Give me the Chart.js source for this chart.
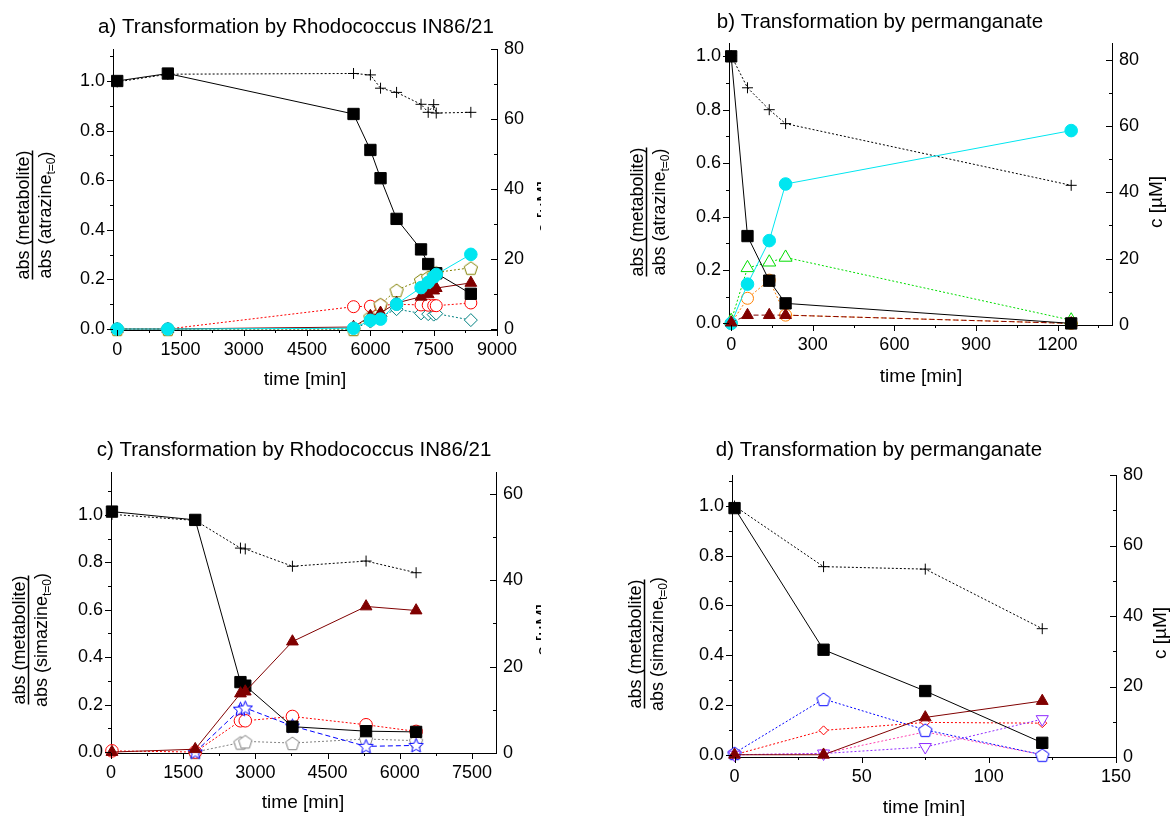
<!DOCTYPE html>
<html>
<head>
<meta charset="utf-8">
<script src="https://cdn.jsdelivr.net/npm/chart.js@4.4.1/dist/chart.umd.min.js"></script>
<style>
  body { margin: 0; background: #fff; width: 1171px; height: 816px; overflow: hidden; position: relative; }
  .panel { position: absolute; }
</style>
</head>
<body>
<div class="panel" style="left:0;top:0;width:541px;height:410px"><canvas id="chart-a"></canvas></div>
<div class="panel" style="left:541px;top:0;width:630px;height:410px"><canvas id="chart-b"></canvas></div>
<div class="panel" style="left:0;top:410px;width:541px;height:406px"><canvas id="chart-c"></canvas></div>
<div class="panel" style="left:541px;top:410px;width:630px;height:406px"><canvas id="chart-d"></canvas></div>
<script>
// --- data ------------------------------------------------------------------

// a) atrazine, Rhodococcus
const A_TIME      = [0, 1200, 5600, 6000, 6240, 6620, 7200, 7370, 7500, 7560, 8380];
const A_ATRAZINE  = [1.00, 1.03, 0.867, 0.722, 0.608, 0.444, 0.321, 0.262, null, 0.225, 0.142];
const A_CONC      = [70.6, 72.8, 73.0, 72.6, 68.8, 67.6, 64.2, 61.9, 64.1, 61.7, 61.9];
const A_CYAN      = [0, 0, 0.003, 0.035, 0.04, 0.10, 0.167, 0.188, 0.21, 0.22, 0.301];
const A_WINE      = [0, 0, 0.008, 0.052, 0.065, 0.105, 0.13, 0.14, 0.155, 0.165, 0.186];
const A_RED       = [0, 0, 0.09, 0.092, 0.095, 0.10, 0.097, 0.096, 0.095, 0.094, 0.105];
const A_OLIVE     = [0, 0, 0.0, 0.05, 0.10, 0.157, 0.198, 0.21, 0.22, 0.228, 0.247];
const A_TEAL      = [0, 0, 0, 0.03, 0.05, 0.08, 0.063, 0.06, 0.058, 0.062, 0.036];
const A_XTICKS    = [0, 1500, 3000, 4500, 6000, 7500, 9000];

// b) atrazine, permanganate
const B_TIME      = [0, 60, 140, 200, 1250];
const B_ATRAZINE  = [1.0, 0.327, 0.16, 0.075, 0.0];
const B_CONC      = [81.2, 71.5, 64.9, 60.7, 42.1];
const B_CYAN      = [0, 0.147, 0.31, 0.522, 0.722];
const B_GREEN     = [0.01, 0.208, 0.229, 0.247, 0.012];
const B_ORANGE    = [0, 0.094, 0.162, 0.031, 0.0];
const B_WINE      = [0.003, 0.031, 0.031, 0.031, 0.0];
const B_XTICKS    = [0, 300, 600, 900, 1200];

// c) simazine, Rhodococcus
const C_TIME      = [20, 1750, 2690, 2790, 3770, 5300, 6340];
const C_SIMAZINE  = [1.014, 0.979, 0.295, 0.28, 0.107, 0.088, 0.085];
const C_CONC      = [55.2, 53.8, 47.4, 47.2, 43.2, 44.4, 41.7];
const C_WINE      = [0.0, 0.012, 0.247, 0.255, 0.466, 0.614, 0.597];
const C_BLUE      = [null, 0.0, 0.181, 0.186, 0.11, 0.024, 0.028];
const C_RED       = [0.005, 0.0, 0.132, 0.132, 0.15, 0.115, 0.087];
const C_GRAY      = [null, 0.0, 0.04, 0.045, 0.038, 0.055, 0.048];
const C_XTICKS    = [0, 1500, 3000, 4500, 6000, 7500];

// d) simazine, permanganate
const D_TIME      = [0, 35, 75, 121];
const D_SIMAZINE  = [0.991, 0.422, 0.256, 0.048];
const D_CONC      = [71.2, 54.0, 53.3, 36.4];
const D_WINE      = [0.0, 0.0, 0.15, 0.216];
const D_BLUE      = [0.007, 0.224, 0.10, 0.0];
const D_RED       = [0.0, 0.098, 0.13, 0.127];
const D_PINK      = [0.0, 0.005, 0.092, 0.0];
const D_PURPLE    = [0.0, 0.005, 0.031, 0.143];
const D_XTICKS    = [0, 50, 100, 150];

const Y_TICKS     = [0, 0.2, 0.4, 0.6, 0.8, 1.0];
const Y2_TICKS_80 = [0, 20, 40, 60, 80];
const Y2_TICKS_60 = [0, 20, 40, 60];

const TITLES = [
    "a) Transformation by Rhodococcus IN86/21",
    "b) Transformation by permanganate",
    "c) Transformation by Rhodococcus IN86/21",
    "d) Transformation by permanganate",
];

// --- helpers ---------------------------------------------------------------

const FONT = '"Liberation Sans", Arial, Helvetica, sans-serif';

// Chart.js has no pentagon / five-point star, so draw them once on a canvas.
function polyImg(n, r, stroke, star) {
    const c = document.createElement("canvas");
    const s = Math.ceil(2 * r + 4);
    c.width = s; c.height = s;
    const g = c.getContext("2d");
    const k = star ? n * 2 : n;
    g.beginPath();
    for (let i = 0; i < k; i++) {
        const rr = star && i % 2 ? r * 0.45 : r;
        const a = -Math.PI / 2 + i * 2 * Math.PI / k;
        g.lineTo(s / 2 + rr * Math.cos(a), s / 2 + rr * Math.sin(a) + (star ? 0.5 : 1));
    }
    g.closePath();
    g.fillStyle = "#fff"; g.fill();
    g.strokeStyle = stroke; g.lineWidth = 1; g.stroke();
    return c;
}

const DOT = [2, 2];
const DASH = [5, 3];

function series(times, vals, o) {
    const data = [];
    times.forEach((t, i) => { if (vals[i] !== null) data.push({ x: t, y: vals[i] }); });
    return Object.assign({
        data, yAxisID: "y", borderWidth: 1, pointBorderWidth: 1, tension: 0,
        fill: false, clip: false, spanGaps: true,
    }, o);
}

const sq    = c => ({ borderColor: c, pointStyle: "rect", pointRadius: 8, pointBackgroundColor: c, pointBorderColor: c });
const cross = c => ({ borderColor: c, borderDash: DOT, pointStyle: "cross", pointRadius: 5.5, pointBorderColor: c, yAxisID: "y2" });
const dotF  = c => ({ borderColor: c, pointStyle: "circle", pointRadius: 6.3, pointBackgroundColor: c, pointBorderColor: c });
const triF  = c => ({ borderColor: c, pointStyle: "triangle", pointRadius: 6.8, pointBackgroundColor: c, pointBorderColor: c });
const open  = (c, style, r, dash, rot) => ({
    borderColor: c, borderDash: dash || DOT, pointStyle: style, pointRadius: r,
    pointBackgroundColor: "#fff", pointBorderColor: c, pointRotation: rot || 0,
});

// per-panel decorations (titles, axis captions, minor ticks), local canvas coords
const DECO = {
    "chart-a": { title: TITLES[0], tx: 296, ty: 33, xt: [305, 385], rt: [545, 207], frac: [32, 215], sub: "atrazine",
                 minor: { x: 750, y: 0.1, y2: 10 } },
    "chart-b": { title: TITLES[1], tx: 339, ty: 28, xt: [380, 382], rt: [616, 202], frac: [105, 212], sub: "atrazine",
                 minor: { x: 150, y: 0.1, y2: 10 } },
    "chart-c": { title: TITLES[2], tx: 294, ty: 46, xt: [303, 398], rt: [544, 220], frac: [28, 230], sub: "simazine",
                 minor: { x: 750, y: 0.1, y2: 10 } },
    "chart-d": { title: TITLES[3], tx: 338, ty: 46, xt: [383, 403], rt: [620, 223], frac: [103, 234], sub: "simazine",
                 minor: { x: 25, y: 0.1, y2: 10 } },
};

function tickMarks(ctx, scale, step, area) {
    const majors = scale.ticks.map(t => t.value);
    ctx.beginPath();
    const start = Math.ceil((scale.min - 1e-9) / step) * step;
    for (let v = start; v <= scale.max + 1e-9; v += step) {
        const isMajor = majors.some(m => Math.abs(m - v) < step / 10);
        const len = isMajor ? 6 : 3;
        const p = Math.round(scale.getPixelForValue(v)) + 0.5;
        if (scale.id === "x") {
            ctx.moveTo(p, area.bottom); ctx.lineTo(p, area.bottom + len);
        } else if (scale.id === "y") {
            ctx.moveTo(area.left, p); ctx.lineTo(area.left - len, p);
        } else {
            ctx.moveTo(area.right, p); ctx.lineTo(area.right - len, p);
        }
    }
    ctx.stroke();
}

const deco = {
    id: "deco",
    afterDraw(chart) {
        const d = DECO[chart.canvas.id];
        if (!d) return;
        const ctx = chart.ctx, a = chart.chartArea;
        ctx.save();
        ctx.strokeStyle = "#000"; ctx.fillStyle = "#000"; ctx.lineWidth = 1;
        for (const id of ["x", "y", "y2"]) tickMarks(ctx, chart.scales[id], d.minor[id], a);

        // panel title
        ctx.font = `20.5px ${FONT}`;
        ctx.textAlign = "center"; ctx.textBaseline = "alphabetic";
        ctx.fillText(d.title, d.tx, d.ty);

        // x caption
        ctx.font = `19px ${FONT}`;
        ctx.fillText("time [min]", d.xt[0], d.xt[1]);

        // right caption
        ctx.save();
        ctx.translate(d.rt[0], d.rt[1]);
        ctx.rotate(-Math.PI / 2);
        ctx.textBaseline = "middle";
        ctx.fillText("c [µM]", 0, 0);
        ctx.restore();

        // left caption: abs(metabolite) / abs(xxx t=0)
        ctx.save();
        ctx.translate(d.frac[0], d.frac[1]);
        ctx.rotate(-Math.PI / 2);
        ctx.font = `18px ${FONT}`;
        ctx.textAlign = "center";
        const num = "abs (metabolite)";
        const wn = ctx.measureText(num).width;
        ctx.fillText(num, 0, -3);
        ctx.beginPath();
        ctx.moveTo(-wn / 2, 0.5); ctx.lineTo(wn / 2, 0.5);
        ctx.lineWidth = 1.5; ctx.stroke();
        ctx.textAlign = "left";
        const d1 = `abs (${d.sub}`;
        const w1 = ctx.measureText(d1).width;
        const w3 = ctx.measureText(")").width;
        ctx.font = `12px ${FONT}`;
        const w2 = ctx.measureText("t=0").width;
        let x0 = -(w1 + w2 + w3) / 2;
        ctx.font = `18px ${FONT}`;
        ctx.fillText(d1, x0, 19);
        ctx.font = `12px ${FONT}`;
        ctx.fillText("t=0", x0 + w1, 23);
        ctx.font = `18px ${FONT}`;
        ctx.fillText(")", x0 + w1 + w2, 19);
        ctx.restore();

        ctx.restore();
    },
};

function axisBase() {
    return {
        type: "linear",
        grid: { display: false, drawTicks: false },
        border: { display: true, color: "#000", width: 1 },
    };
}

function makeChart(id, p) {
    const a = p.area;
    return new Chart(document.getElementById(id), {
        type: "line",
        data: { datasets: p.datasets },
        options: {
            responsive: true,
            maintainAspectRatio: false,
            animation: false,
            events: [],
            layout: { padding: { top: a.top, left: 0, right: 0, bottom: 0 } },
            plugins: { legend: { display: false }, tooltip: { enabled: false } },
            scales: {
                x: Object.assign(axisBase(), {
                    position: "bottom", min: p.x[0], max: p.x[1],
                    afterBuildTicks: s => { s.ticks = p.xTicks.map(v => ({ value: v })); },
                    afterFit: s => { s.height = a.xh; },
                    ticks: { color: "#000", font: { family: FONT, size: 18 }, padding: 9,
                             maxRotation: 0, autoSkip: false, callback: v => String(v) },
                }),
                y: Object.assign(axisBase(), {
                    position: "left", min: p.y[0], max: p.y[1],
                    afterBuildTicks: s => { s.ticks = Y_TICKS.map(v => ({ value: v })); },
                    afterFit: s => { s.width = a.left; },
                    ticks: { color: "#000", font: { family: FONT, size: 18 }, padding: 8,
                             autoSkip: false, callback: v => v.toFixed(1) },
                }),
                y2: Object.assign(axisBase(), {
                    position: "right", min: p.y2[0], max: p.y2[1],
                    afterBuildTicks: s => { s.ticks = p.y2Ticks.map(v => ({ value: v })); },
                    afterFit: s => { s.width = a.right; },
                    ticks: { color: "#000", font: { family: FONT, size: 18 }, padding: 7,
                             autoSkip: false, callback: v => String(v) },
                }),
            },
        },
        plugins: [deco],
    });
}

const CYAN = "#00e6f0", WINE = "#800000", RED = "#ff0000";

makeChart("chart-a", {
    area: { top: 49, left: 113, right: 44, xh: 80 },
    x: [-100, 9000], y: [-0.004, 1.129], y2: [-0.3, 80],
    xTicks: A_XTICKS, y2Ticks: Y2_TICKS_80,
    datasets: [
        series(A_TIME, A_CYAN, dotF(CYAN)),
        series(A_TIME, A_ATRAZINE, sq("#000")),
        series(A_TIME, A_WINE, triF(WINE)),
        series(A_TIME, A_OLIVE, open("#808000", polyImg(5, 7, "#808000"), 7)),
        series(A_TIME, A_RED, open(RED, "circle", 6)),
        series(A_TIME, A_TEAL, open("#008080", "rectRot", 6.5)),
        series(A_TIME, A_CONC, cross("#000")),
    ],
});

makeChart("chart-b", {
    area: { top: 43, left: 188, right: 59, xh: 85 },
    x: [-8, 1400], y: [-0.006, 1.05], y2: [0, 85],
    xTicks: B_XTICKS, y2Ticks: Y2_TICKS_80,
    datasets: [
        series(B_TIME, B_ATRAZINE, sq("#000")),
        series(B_TIME, B_WINE, Object.assign(triF(WINE), { borderDash: DASH })),
        series(B_TIME, B_CYAN, dotF(CYAN)),
        series(B_TIME, B_ORANGE, open("#ff8000", "circle", 6)),
        series(B_TIME, B_GREEN, open("#00dd00", "triangle", 7.5)),
        series(B_TIME, B_CONC, cross("#000")),
    ],
});

makeChart("chart-c", {
    area: { top: 62, left: 111, right: 45, xh: 63 },
    x: [0, 8000], y: [-0.004, 1.181], y2: [0, 65],
    xTicks: C_XTICKS, y2Ticks: Y2_TICKS_60,
    datasets: [
        series(C_TIME, C_WINE, triF(WINE)),
        series(C_TIME, C_SIMAZINE, sq("#000")),
        series(C_TIME, C_BLUE, open("#0000ff", polyImg(5, 7.5, "#0000ff", true), 7.5, DASH)),
        series(C_TIME, C_RED, open(RED, "circle", 6.3)),
        series(C_TIME, C_GRAY, open("#808080", polyImg(5, 7, "#808080"), 7)),
        series(C_TIME, C_CONC, cross("#000")),
    ],
});

makeChart("chart-d", {
    area: { top: 65, left: 191, right: 55, xh: 59 },
    x: [-1, 150], y: [-0.009, 1.124], y2: [0, 80],
    xTicks: D_XTICKS, y2Ticks: Y2_TICKS_80,
    datasets: [
        series(D_TIME, D_SIMAZINE, sq("#000")),
        series(D_TIME, D_WINE, triF(WINE)),
        series(D_TIME, D_PURPLE, open("#8f2bff", "triangle", 7, DOT, 180)),
        series(D_TIME, D_BLUE, open("#0000ff", polyImg(5, 7, "#0000ff"), 7)),
        series(D_TIME, D_RED, open(RED, "rectRot", 4.5)),
        series(D_TIME, D_PINK, open("#ff40b0", "rect", 5)),
        series(D_TIME, D_CONC, cross("#000")),
    ],
});
</script>
</body>
</html>
